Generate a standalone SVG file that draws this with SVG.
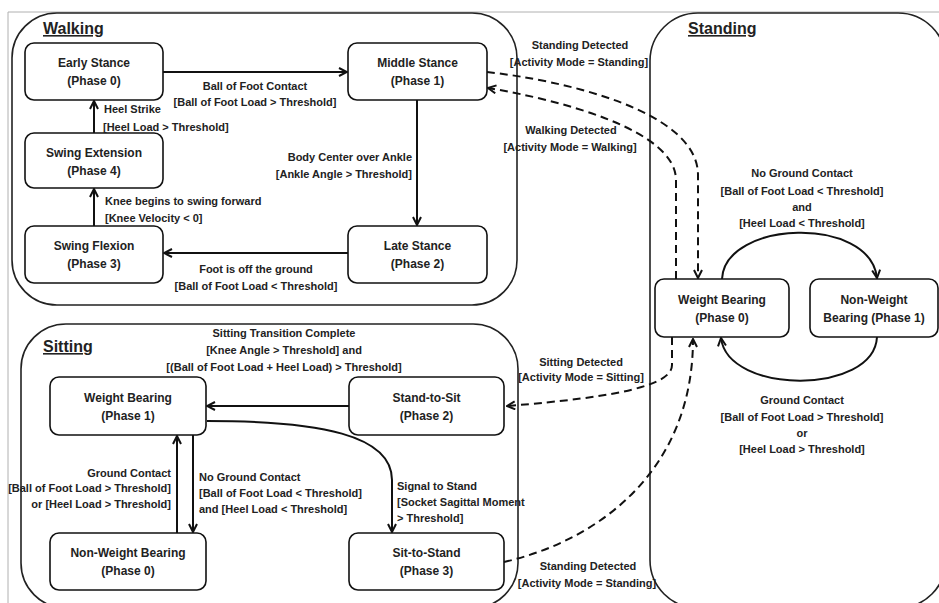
<svg xmlns="http://www.w3.org/2000/svg" width="939" height="603" viewBox="0 0 939 603">
<defs>
<style>
.frame{fill:none;stroke:#b0b0b0;stroke-width:1}
.cont{fill:none;stroke:#222;stroke-width:1.6}
.node{fill:#fff;stroke:#111;stroke-width:1.6}
.ntxt{font-family:"Liberation Sans",Arial,sans-serif;font-weight:bold;font-size:12px;fill:#222;text-anchor:middle}
.lbl{font-family:"Liberation Sans",Arial,sans-serif;font-weight:bold;font-size:11px;fill:#222}
.title{font-family:"Liberation Sans",Arial,sans-serif;font-weight:bold;font-size:16px;fill:#222;text-decoration:underline}
.c{text-anchor:middle}
.e{text-anchor:end}
.arr{fill:none;stroke:#111;stroke-width:2;marker-end:url(#ah)}
.dash{fill:none;stroke:#111;stroke-width:2;stroke-dasharray:8,5;marker-end:url(#ah)}
</style>
<marker id="ah" viewBox="0 0 10 10" refX="9" refY="5" markerWidth="10" markerHeight="10" orient="auto" markerUnits="userSpaceOnUse">
<path d="M1,1 L9,5 L1,9" fill="none" stroke="#111" stroke-width="2"/>
</marker>
</defs>
<rect width="939" height="603" fill="#fff"/>
<path class="frame" d="M8,603 L8,12 L939,12"/>

<g id="walking">
<rect class="cont" x="12" y="13" width="505" height="292" rx="45"/>
<text class="title" x="43" y="34">Walking</text>
</g>
<g id="sitting">
<rect class="cont" x="21" y="324" width="497" height="284" rx="45"/>
<text class="title" x="43" y="352">Sitting</text>
</g>
<g id="standing">
<rect class="cont" x="650" y="13" width="296" height="595" rx="48"/>
<text class="title" x="688" y="34">Standing</text>
</g>

<g id="early-stance">
<rect class="node" x="25" y="43" width="138" height="57" rx="9"/>
<text class="ntxt" x="94" y="67">Early Stance</text>
<text class="ntxt" x="94" y="85">(Phase 0)</text>
</g>
<g id="middle-stance">
<rect class="node" x="348" y="43" width="139" height="57" rx="9"/>
<text class="ntxt" x="417.5" y="67">Middle Stance</text>
<text class="ntxt" x="417.5" y="85">(Phase 1)</text>
</g>
<g id="swing-extension">
<rect class="node" x="25" y="133" width="138" height="55" rx="9"/>
<text class="ntxt" x="94" y="157">Swing Extension</text>
<text class="ntxt" x="94" y="175">(Phase 4)</text>
</g>
<g id="swing-flexion">
<rect class="node" x="25" y="226" width="138" height="57" rx="9"/>
<text class="ntxt" x="94" y="250">Swing Flexion</text>
<text class="ntxt" x="94" y="268">(Phase 3)</text>
</g>
<g id="late-stance">
<rect class="node" x="348" y="226" width="139" height="57" rx="9"/>
<text class="ntxt" x="417.5" y="250">Late Stance</text>
<text class="ntxt" x="417.5" y="268">(Phase 2)</text>
</g>

<g id="sit-weight-bearing">
<rect class="node" x="50" y="377" width="156" height="58" rx="9"/>
<text class="ntxt" x="128" y="402">Weight Bearing</text>
<text class="ntxt" x="128" y="420">(Phase 1)</text>
</g>
<g id="sit-non-weight-bearing">
<rect class="node" x="50" y="533" width="156" height="57" rx="9"/>
<text class="ntxt" x="128" y="557">Non-Weight Bearing</text>
<text class="ntxt" x="128" y="575">(Phase 0)</text>
</g>
<g id="stand-to-sit">
<rect class="node" x="349" y="377" width="155" height="58" rx="9"/>
<text class="ntxt" x="426.5" y="402">Stand-to-Sit</text>
<text class="ntxt" x="426.5" y="420">(Phase 2)</text>
</g>
<g id="sit-to-stand">
<rect class="node" x="349" y="533" width="155" height="57" rx="9"/>
<text class="ntxt" x="426.5" y="557">Sit-to-Stand</text>
<text class="ntxt" x="426.5" y="575">(Phase 3)</text>
</g>

<g id="stand-weight-bearing">
<rect class="node" x="655" y="279" width="134" height="58" rx="9"/>
<text class="ntxt" x="722" y="304">Weight Bearing</text>
<text class="ntxt" x="722" y="322">(Phase 0)</text>
</g>
<g id="stand-non-weight-bearing">
<rect class="node" x="810" y="279" width="128" height="58" rx="9"/>
<text class="ntxt" x="874" y="304">Non-Weight</text>
<text class="ntxt" x="874" y="322">Bearing (Phase 1)</text>
</g>

<g id="connectors">
<path class="arr" d="M163,72 L347,72"/>
<path class="arr" d="M417,100 L417,225"/>
<path class="arr" d="M348,253 L164,253"/>
<path class="arr" d="M94,226 L94,189"/>
<path class="arr" d="M94,133 L94,101"/>

<path class="arr" d="M349,406 L207,406"/>
<path class="arr" d="M207,421 C320,421 392,435 392,480 L392,532"/>
<path class="arr" d="M177,533 L177,436"/>
<path class="arr" d="M193,435 L193,532"/>

<path class="arr" d="M722,279 C725,220 870,215 877,278"/>
<path class="arr" d="M877,337 C874,395 728,395 721,338"/>

<path class="dash" d="M487,72 C560,80 698,110 698,175 L698,278"/>
<path class="dash" d="M676,279 L676,180 C676,130 560,100 488,88"/>
<path class="dash" d="M672,337 L672,365 C672,385 620,397 507,406"/>
<path class="dash" d="M504,562 C600,540 693,470 693,339"/>
</g>

<g id="labels">
<text class="lbl c" x="255" y="90">Ball of Foot Contact</text>
<text class="lbl c" x="255" y="106">[Ball of Foot Load &gt; Threshold]</text>
<text class="lbl" x="104" y="113">Heel Strike</text>
<text class="lbl" x="103" y="131">[Heel Load &gt; Threshold]</text>
<text class="lbl" x="105" y="205">Knee begins to swing forward</text>
<text class="lbl" x="105" y="222">[Knee Velocity &lt; 0]</text>
<text class="lbl e" x="412" y="161">Body Center over Ankle</text>
<text class="lbl e" x="412" y="178">[Ankle Angle &gt; Threshold]</text>
<text class="lbl c" x="256" y="273">Foot is off the ground</text>
<text class="lbl c" x="256" y="290">[Ball of Foot Load &lt; Threshold]</text>

<text class="lbl c" x="580" y="49">Standing Detected</text>
<text class="lbl c" x="579" y="66">[Activity Mode = Standing]</text>
<text class="lbl c" x="571" y="134">Walking Detected</text>
<text class="lbl c" x="570" y="151">[Activity Mode = Walking]</text>
<text class="lbl c" x="581" y="366">Sitting Detected</text>
<text class="lbl c" x="581" y="381">[Activity Mode = Sitting]</text>
<text class="lbl c" x="588" y="570">Standing Detected</text>
<text class="lbl c" x="587" y="587">[Activity Mode = Standing]</text>

<text class="lbl c" x="802" y="177">No Ground Contact</text>
<text class="lbl c" x="802" y="195">[Ball of Foot Load &lt; Threshold]</text>
<text class="lbl c" x="802" y="211">and</text>
<text class="lbl c" x="802" y="227">[Heel Load &lt; Threshold]</text>
<text class="lbl c" x="802" y="404">Ground Contact</text>
<text class="lbl c" x="802" y="421">[Ball of Foot Load &gt; Threshold]</text>
<text class="lbl c" x="802" y="437">or</text>
<text class="lbl c" x="802" y="453">[Heel Load &gt; Threshold]</text>

<text class="lbl c" x="284" y="337">Sitting Transition Complete</text>
<text class="lbl c" x="284" y="354">[Knee Angle &gt; Threshold] and</text>
<text class="lbl c" x="284" y="371">[(Ball of Foot Load + Heel Load) &gt; Threshold]</text>
<text class="lbl e" x="171" y="477">Ground Contact</text>
<text class="lbl e" x="171" y="492">[Ball of Foot Load &gt; Threshold]</text>
<text class="lbl e" x="171" y="508">or [Heel Load &gt; Threshold]</text>
<text class="lbl" x="199" y="481">No Ground Contact</text>
<text class="lbl" x="199" y="497">[Ball of Foot Load &lt; Threshold]</text>
<text class="lbl" x="199" y="513">and [Heel Load &lt; Threshold]</text>
<text class="lbl" x="397" y="490">Signal to Stand</text>
<text class="lbl" x="397" y="506">[Socket Sagittal Moment</text>
<text class="lbl" x="397" y="522">&gt; Threshold]</text>
</g>
</svg>
